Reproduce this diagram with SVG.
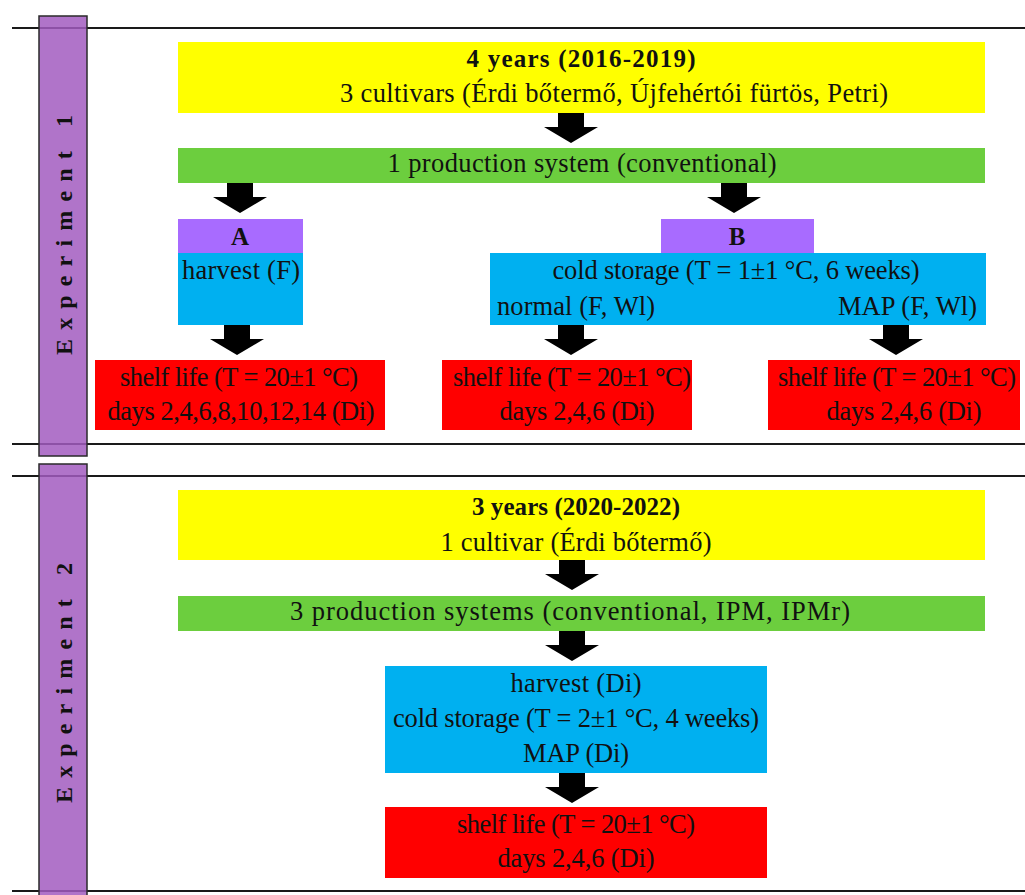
<svg xmlns="http://www.w3.org/2000/svg" xmlns:xlink="http://www.w3.org/1999/xlink" width="1025" height="895" viewBox="0 0 1025 895">
<style>
text{font-family:"Liberation Serif","Times New Roman",serif;font-size:26.5px;fill:#111;}
.b{font-weight:bold;font-size:25px;}
.m{text-anchor:middle;}
.e{text-anchor:end;}
.side{font-weight:bold;font-size:24px;text-anchor:middle;}
.rule{stroke:#1a1a1a;stroke-width:2;}
.bar{fill:#a25cbf;fill-opacity:0.85;stroke:#2a2a2a;stroke-width:1.5;}
.y{fill:#ffff00;} .g{fill:#6cce3e;} .bl{fill:#00b0f0;} .r{fill:#ff0000;} .p{fill:#a86bff;}
</style>
<defs>
<path id="arr" d="M-13,0 H13 V14 H27 L0,30 L-27,14 H-13 Z" fill="#000"/>
</defs>
<rect width="1025" height="895" fill="#fff"/>
<g id="rules">
<line class="rule" x1="12" y1="28" x2="1025" y2="28"/>
<line class="rule" x1="12" y1="444" x2="1025" y2="444"/>
<line class="rule" x1="12" y1="476" x2="1025" y2="476"/>
<line class="rule" x1="12" y1="891" x2="1025" y2="891"/>
</g>
<g id="exp1-label">
<rect class="bar" x="39" y="16" width="48" height="440"/>
<text class="side" transform="translate(72,235) rotate(-90)" textLength="240" lengthAdjust="spacing">Experiment  1</text>
</g>
<g id="exp2-label">
<rect class="bar" x="39" y="464" width="48" height="440"/>
<text class="side" transform="translate(72,683) rotate(-90)" textLength="240" lengthAdjust="spacing">Experiment  2</text>
</g>
<g id="y1">
<rect class="y" x="178" y="42" width="807" height="71"/>
<text class="b m" x="581" y="67" textLength="229" lengthAdjust="spacing">4 years (2016-2019)</text>
<text class="m" x="614" y="102" textLength="548" lengthAdjust="spacing">3 cultivars (Érdi bőtermő, Újfehértói fürtös, Petri)</text>
</g>
<g id="g1">
<rect class="g" x="178" y="148" width="807" height="35"/>
<text class="m" x="582" y="172" textLength="389" lengthAdjust="spacing">1 production system (conventional)</text>
</g>
<g id="A">
<rect class="p" x="178" y="219" width="125" height="34"/>
<text class="b m" x="240" y="245">A</text>
</g>
<g id="harvestA">
<rect class="bl" x="178" y="253" width="125" height="72"/>
<text x="182" y="279" textLength="118" lengthAdjust="spacing">harvest (F)</text>
</g>
<g id="B">
<rect class="p" x="661" y="219" width="153" height="35"/>
<text class="b m" x="737" y="245">B</text>
</g>
<g id="coldB">
<rect class="bl" x="490" y="253" width="496" height="72"/>
<text class="m" x="736" y="279" textLength="367" lengthAdjust="spacing">cold storage (T = 1±1 °C, 6 weeks)</text>
<text x="497" y="315" textLength="158" lengthAdjust="spacing">normal (F, Wl)</text>
<text class="e" x="977" y="315" textLength="139" lengthAdjust="spacing">MAP (F, Wl)</text>
</g>
<g id="shelfA">
<rect class="r" x="95" y="360" width="290" height="70"/>
<text class="m" x="239" y="386" textLength="238" lengthAdjust="spacing">shelf life (T = 20±1 °C)</text>
<text class="m" x="241" y="420" textLength="267" lengthAdjust="spacing">days 2,4,6,8,10,12,14 (Di)</text>
</g>
<g id="shelfB1">
<rect class="r" x="442" y="360" width="250" height="70"/>
<text class="m" x="572" y="386" textLength="238" lengthAdjust="spacing">shelf life (T = 20±1 °C)</text>
<text class="m" x="577" y="420" textLength="155" lengthAdjust="spacing">days 2,4,6 (Di)</text>
</g>
<g id="shelfB2">
<rect class="r" x="768" y="360" width="252" height="70"/>
<text class="m" x="897" y="386" textLength="238" lengthAdjust="spacing">shelf life (T = 20±1 °C)</text>
<text class="m" x="904" y="420" textLength="155" lengthAdjust="spacing">days 2,4,6 (Di)</text>
</g>
<g id="y2">
<rect class="y" x="178" y="490" width="807" height="70"/>
<text class="b m" x="576" y="515" textLength="208" lengthAdjust="spacing">3 years (2020-2022)</text>
<text class="m" x="576" y="551" textLength="271" lengthAdjust="spacing">1 cultivar (Érdi bőtermő)</text>
</g>
<g id="g2">
<rect class="g" x="178" y="596" width="807" height="35"/>
<text class="m" x="570" y="620" textLength="560" lengthAdjust="spacing">3 production systems (conventional, IPM, IPMr)</text>
</g>
<g id="blue2">
<rect class="bl" x="385" y="666" width="382" height="107"/>
<text class="m" x="576" y="692" textLength="131" lengthAdjust="spacing">harvest (Di)</text>
<text class="m" x="576" y="727" textLength="366" lengthAdjust="spacing">cold storage (T = 2±1 °C, 4 weeks)</text>
<text class="m" x="576" y="762" textLength="106" lengthAdjust="spacing">MAP (Di)</text>
</g>
<g id="red2">
<rect class="r" x="385" y="807" width="382" height="71"/>
<text class="m" x="576" y="833" textLength="238" lengthAdjust="spacing">shelf life (T = 20±1 °C)</text>
<text class="m" x="576" y="867" textLength="157" lengthAdjust="spacing">days 2,4,6 (Di)</text>
</g>
<g id="connectors">
<use href="#arr" x="571" y="113"/>
<use href="#arr" x="240" y="183"/>
<use href="#arr" x="734" y="183"/>
<use href="#arr" x="237" y="325"/>
<use href="#arr" x="571" y="325"/>
<use href="#arr" x="896" y="325"/>
<use href="#arr" x="572" y="560"/>
<use href="#arr" x="572" y="631"/>
<use href="#arr" x="572" y="773"/>
</g>
</svg>
